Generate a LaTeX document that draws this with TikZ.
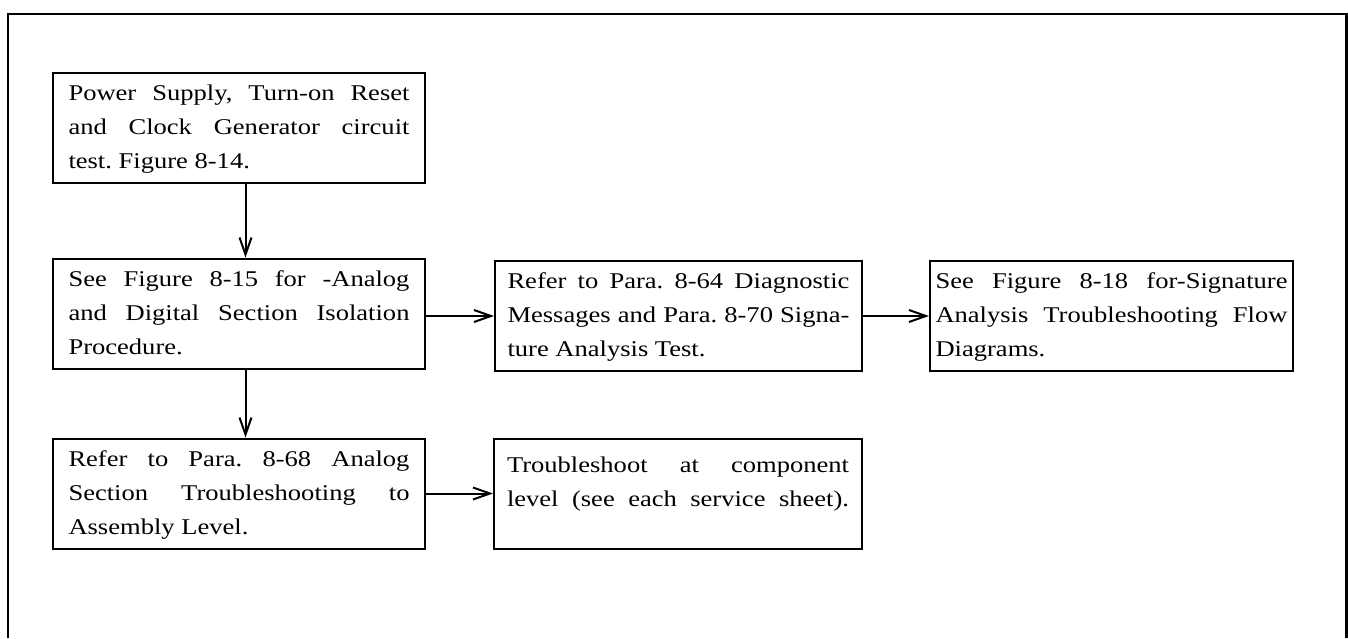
\documentclass[tikz,border=0pt]{standalone}
\usepackage{fontspec}
\setmainfont{Liberation Serif}[FakeStretch=1.18]
\usetikzlibrary{arrows.meta}
\frenchspacing
\newcommand{\jl}[1]{\makebox[\linewidth][s]{#1}}
\newcommand{\boxtext}[3][86pt]{\parbox[c][#1][t]{#2}{#3}}
\tikzset{
  blk/.style={draw, line width=2pt, inner sep=0pt, minimum height=110pt,
    font=\fontsize{22.5}{34}\selectfont},
  arr/.style={line width=2pt, -{Straight Barb[length=17pt,width=12pt,line width=2pt]}},
  frame/.style={line width=2.2pt}
}
\begin{document}
\begin{tikzpicture}[x=1pt,y=-1pt]
\useasboundingbox (0,0) rectangle (1348,638);
\draw[frame] (8,638) -- (8,14) -- (1346.5,14) -- (1346.5,638);

\node[blk, minimum width=372pt] (b1) at (239,128)
  {\boxtext{341pt}{\jl{Power Supply, Turn-on Reset}\\\jl{and Clock Generator circuit}\\test. Figure 8-14.}};
\node[blk, minimum width=372pt] (b2) at (239,313.5)
  {\boxtext{341pt}{\jl{See Figure 8-15 for -Analog}\\\jl{and Digital Section Isolation}\\Procedure.}};
\node[blk, minimum width=367pt] (b3) at (678.5,316)
  {\boxtext{342pt}{\jl{Refer to Para. 8-64 Diagnostic}\\\jl{Messages and Para. 8-70 Signa-}\\ture Analysis Test.}};
\node[blk, minimum width=363pt] (b4) at (1111.5,316)
  {\boxtext{352pt}{\jl{See Figure 8-18 for-Signature}\\\jl{Analysis Troubleshooting Flow}\\Diagrams.}};
\node[blk, minimum width=372pt] (b5) at (239,493.5)
  {\boxtext{341pt}{\jl{Refer to Para. 8-68 Analog}\\\jl{Section Troubleshooting to}\\Assembly Level.}};
\node[blk, minimum width=368pt] (b6) at (678,493.5)
  {\boxtext[74pt]{342pt}{\jl{Troubleshoot at component}\\\jl{level (see each service sheet).}}};

\draw[arr] ([xshift=6.5pt]b1.south) -- ([xshift=6.5pt]b2.north);
\draw[arr] ([xshift=6.5pt]b2.south) -- ([xshift=6.5pt]b5.north);
\draw[arr] (b2.east |- b3.west) -- (b3.west);
\draw[arr] (b3.east) -- (b4.west);
\draw[arr] (b5.east) -- (b6.west |- b5.east);
\end{tikzpicture}
\end{document}
